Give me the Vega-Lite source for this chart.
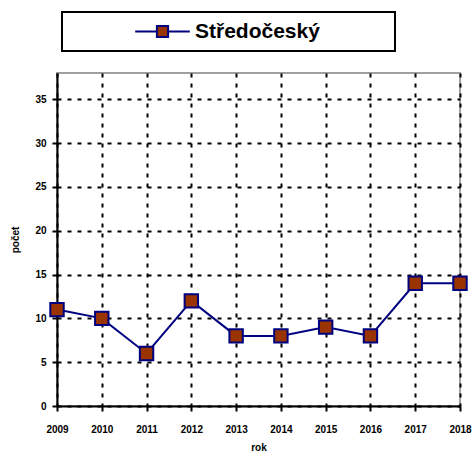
{
  "$schema": "https://vega.github.io/schema/vega-lite/v6.json",
  "autosize": "none",
  "width": 403,
  "height": 333,
  "padding": {"left": 57, "top": 73, "right": 16, "bottom": 55},
  "background": "white",
  "config": {
    "font": "Liberation Sans",
    "view": {"stroke": "#a0a0a0", "strokeWidth": 2},
    "axis": {
      "labelFont": "Liberation Sans",
      "labelFontWeight": "bold",
      "labelFontSize": 10,
      "labelColor": "black",
      "titleFont": "Liberation Sans",
      "titleFontWeight": "bold",
      "titleFontSize": 10,
      "titleColor": "black",
      "domainColor": "black",
      "domainWidth": 2,
      "tickColor": "black",
      "tickWidth": 2,
      "tickSize": 5,
      "gridColor": "black",
      "gridWidth": 2,
      "gridDash": [4, 6],
      "gridOpacity": 1
    }
  },
  "data": {
    "values": [
      {"rok": "2009", "pocet": 11, "region": "Středočeský"},
      {"rok": "2010", "pocet": 10, "region": "Středočeský"},
      {"rok": "2011", "pocet": 6, "region": "Středočeský"},
      {"rok": "2012", "pocet": 12, "region": "Středočeský"},
      {"rok": "2013", "pocet": 8, "region": "Středočeský"},
      {"rok": "2014", "pocet": 8, "region": "Středočeský"},
      {"rok": "2015", "pocet": 9, "region": "Středočeský"},
      {"rok": "2016", "pocet": 8, "region": "Středočeský"},
      {"rok": "2017", "pocet": 14, "region": "Středočeský"},
      {"rok": "2018", "pocet": 14, "region": "Středočeský"}
    ]
  },
  "encoding": {
    "x": {
      "field": "rok",
      "type": "ordinal",
      "scale": {"type": "point", "padding": 0},
      "axis": {"title": "rok", "labelAngle": 0, "labelPadding": 13, "titlePadding": 8, "grid": true}
    },
    "y": {
      "field": "pocet",
      "type": "quantitative",
      "scale": {"domain": [0, 38], "nice": false},
      "axis": {"title": "počet", "values": [0, 5, 10, 15, 20, 25, 30, 35], "labelPadding": 6, "titlePadding": 14, "grid": true}
    }
  },
  "layer": [
    {
      "mark": {"type": "line", "stroke": "#000080", "strokeWidth": 2},
      "encoding": {
        "color": {
          "field": "region",
          "type": "nominal",
          "scale": {"range": ["#000080"]},
          "legend": {
            "title": " ",
            "titleOrient": "right",
            "titlePadding": 66,
            "titleFontSize": 4,
            "orient": "none",
            "legendX": 5,
            "legendY": -61,
            "padding": 9,
            "strokeColor": "black",
            "labelFont": "Liberation Sans",
            "labelFontWeight": "bold",
            "labelFontSize": 21,
            "labelColor": "black",
            "symbolType": "M-3.9,0H-0.8M0.8,0H3.9M-0.8,-0.8H0.8V0.8H-0.8Z",
            "symbolSize": 196,
            "symbolOffset": 81,
            "labelOffset": 22,
            "encode": {
              "symbols": {"update": {"fill": {"value": "#993300"}, "stroke": {"value": "#000080"}, "strokeWidth": {"value": 2}, "opacity": {"value": 1}}},
              "legend": {"update": {"strokeWidth": {"value": 2}}}
            }
          }
        }
      }
    },
    {
      "mark": {"type": "point", "shape": "square", "filled": true, "fill": "#993300", "stroke": "#000080", "strokeWidth": 2, "size": 180, "opacity": 1}
    }
  ]
}
